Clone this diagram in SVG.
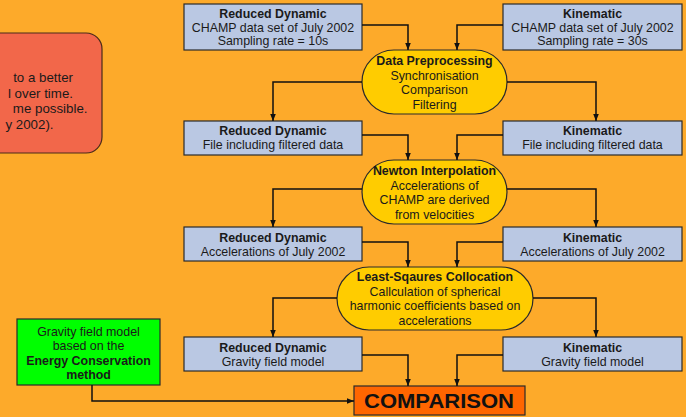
<svg xmlns="http://www.w3.org/2000/svg" width="686" height="417" viewBox="0 0 686 417">
<defs>
<marker id="ah" markerUnits="userSpaceOnUse" markerWidth="8" markerHeight="8" viewBox="0 0 8 8" refX="7.5" refY="4" orient="auto">
<path d="M0,1 L7.5,4 L0,7 Z" fill="#111"/>
</marker>
<style>
.bx{fill:#BAC8E3;stroke:#2a2a2a;stroke-width:1.2}
.el{fill:#FFCC00;stroke:#2a2a2a;stroke-width:1.2}
.t{font-family:"Liberation Sans",Arial,sans-serif;font-size:12.4px;fill:#1a1a1a;text-anchor:middle}
.b{font-weight:bold}
.c{fill:none;stroke:#111;stroke-width:1.5;marker-end:url(#ah)}
</style>
</defs>
<rect x="0" y="0" width="686" height="417" fill="#FDAA2A"/>

<g id="note">
<rect x="-40" y="33" width="142" height="120" rx="16" ry="16" fill="#F2674A" stroke="#4a2a1a" stroke-width="1.2"/>
<g font-family="Liberation Sans, Arial, sans-serif" font-size="13.3" fill="#1a1a1a" text-anchor="end">
<text x="73" y="81.7">to a better</text>
<text x="73" y="97.5">l over time.</text>
<text x="87.5" y="113.2">me possible.</text>
<text x="53.5" y="128.7">y 2002).</text>
</g>
</g>

<g id="rd1">
<rect class="bx" x="184" y="4" width="178" height="46"/>
<text class="t b" x="273" y="18.3">Reduced Dynamic</text>
<text class="t" x="273" y="31.7">CHAMP data set of July 2002</text>
<text class="t" x="273" y="45">Sampling rate = 10s</text>
</g>
<g id="k1">
<rect class="bx" x="503" y="4" width="179" height="46"/>
<text class="t b" x="592.5" y="18.3">Kinematic</text>
<text class="t" x="592.5" y="31.7">CHAMP data set of July 2002</text>
<text class="t" x="592.5" y="45">Sampling rate = 30s</text>
</g>
<g id="pre">
<rect class="el" x="362" y="50" width="145" height="64" rx="32" ry="32"/>
<text class="t b" x="434.5" y="65">Data Preprocessing</text>
<text class="t" x="434.5" y="79.6">Synchronisation</text>
<text class="t" x="434.5" y="94.2">Comparison</text>
<text class="t" x="434.5" y="108.8">Filtering</text>
</g>
<g id="rd2">
<rect class="bx" x="184" y="121" width="178" height="34"/>
<text class="t b" x="273" y="135">Reduced Dynamic</text>
<text class="t" x="273" y="149">File including filtered data</text>
</g>
<g id="k2">
<rect class="bx" x="503" y="121" width="179" height="34"/>
<text class="t b" x="592.5" y="135">Kinematic</text>
<text class="t" x="592.5" y="149">File including filtered data</text>
</g>
<g id="newton">
<rect class="el" x="362" y="160" width="145" height="64" rx="32" ry="32"/>
<text class="t b" x="434.5" y="175">Newton Interpolation</text>
<text class="t" x="434.5" y="189.6">Accelerations of</text>
<text class="t" x="434.5" y="204.2">CHAMP are derived</text>
<text class="t" x="434.5" y="218.8">from velocities</text>
</g>
<g id="rd3">
<rect class="bx" x="184" y="227" width="178" height="34"/>
<text class="t b" x="273" y="241.5">Reduced Dynamic</text>
<text class="t" x="273" y="255.5">Accelerations of July 2002</text>
</g>
<g id="k3">
<rect class="bx" x="503" y="227" width="179" height="34"/>
<text class="t b" x="592.5" y="241.5">Kinematic</text>
<text class="t" x="592.5" y="255.5">Accelerations of July 2002</text>
</g>
<g id="lsc">
<rect class="el" x="337" y="267" width="196" height="63" rx="32" ry="31.5"/>
<text class="t b" x="435" y="281">Least-Sqaures Collocation</text>
<text class="t" x="435" y="295.5">Callculation of spherical</text>
<text class="t" x="435" y="310">harmonic coefficients based on</text>
<text class="t" x="435" y="324.5">accelerations</text>
</g>
<g id="rd4">
<rect class="bx" x="184" y="337" width="178" height="34"/>
<text class="t b" x="273" y="351.5">Reduced Dynamic</text>
<text class="t" x="273" y="365.7">Gravity field model</text>
</g>
<g id="k4">
<rect class="bx" x="503" y="337" width="179" height="34"/>
<text class="t b" x="592.5" y="351.5">Kinematic</text>
<text class="t" x="592.5" y="365.7">Gravity field model</text>
</g>
<g id="energy">
<rect x="17" y="319" width="143" height="66" fill="#00FF00" stroke="#2a2a2a" stroke-width="1.2"/>
<text class="t" x="88.5" y="336">Gravity field model</text>
<text class="t" x="88.5" y="350.3">based on the</text>
<text class="t b" x="88.5" y="365">Energy Conservation</text>
<text class="t b" x="88.5" y="379">method</text>
</g>
<g id="comparison">
<rect x="354" y="386" width="171" height="29" fill="#FF6600" stroke="#2a2a2a" stroke-width="1.2"/>
<text x="439" y="408.3" font-family="Liberation Sans, Arial, sans-serif" font-size="19.5" font-weight="bold" fill="#111" text-anchor="middle" textLength="150" lengthAdjust="spacingAndGlyphs">COMPARISON</text>
</g>

<g id="connectors">
<path class="c" d="M362,25 H408 V50"/>
<path class="c" d="M503,25 H457 V50"/>
<path class="c" d="M362,82 H273 V121"/>
<path class="c" d="M507,82 H596 V121"/>
<path class="c" d="M362,135 H408 V160"/>
<path class="c" d="M503,135 H457 V160"/>
<path class="c" d="M362,189 H273 V227"/>
<path class="c" d="M507,189 H596 V227"/>
<path class="c" d="M362,242 H408 V267"/>
<path class="c" d="M503,242 H457 V267"/>
<path class="c" d="M337,298 H273 V337"/>
<path class="c" d="M533,298 H596 V337"/>
<path class="c" d="M362,355 H408 V386"/>
<path class="c" d="M503,355 H457 V386"/>
<path class="c" d="M92,385 V401 H354"/>
</g>
</svg>
